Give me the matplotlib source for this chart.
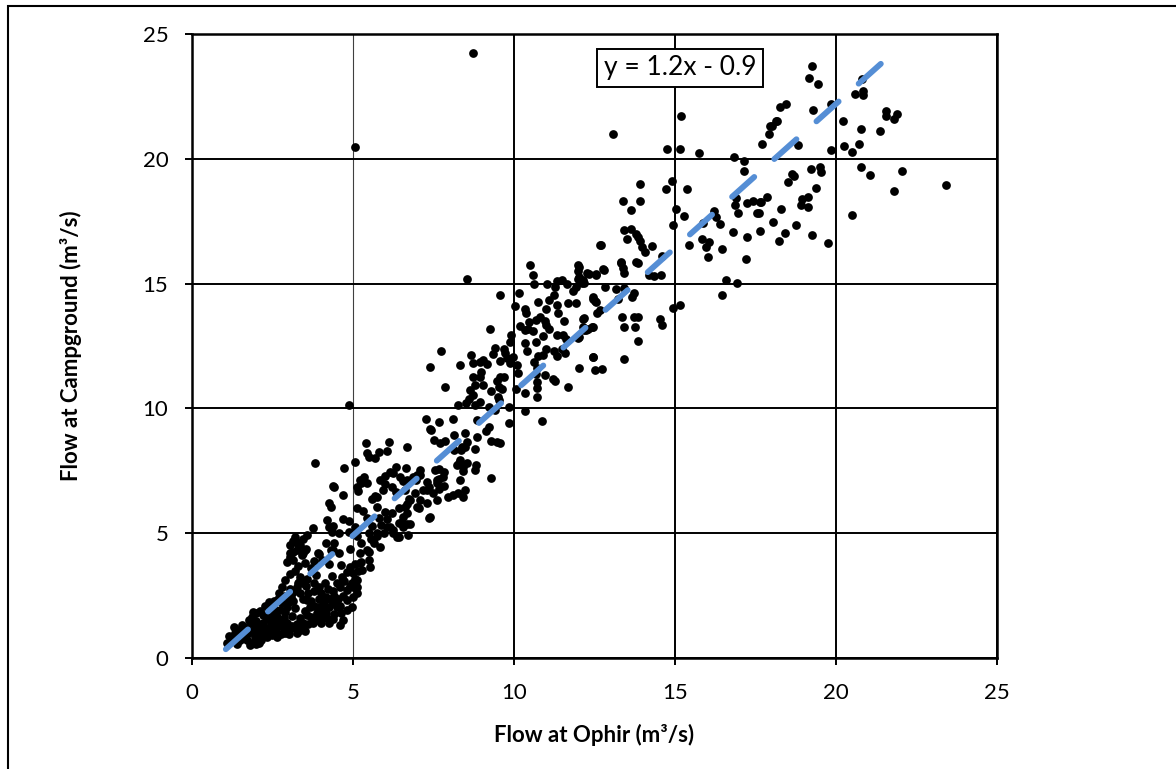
import numpy as np
import matplotlib.pyplot as plt
from matplotlib.patches import Rectangle

plt.rcParams['font.family'] = ['Lato', 'DejaVu Sans']

# (flow at Ophir, flow at Campground) in m3/s
# dense low-flow cluster
low_flows = [
    (3.13, 4.69), (3.26, 4.61), (3.35, 4.53), (3.04, 4.05), (3.13, 3.93), (2.95, 3.85), (3.04, 4.21),
    (3.26, 4.33), (3.41, 4.13), (3.5, 4.33), (4.16, 4.61), (4.31, 4.33), (3.91, 4.21), (4.03, 3.93),
    (3.19, 3.49), (4.81, 3.45), (4.9, 3.65), (5.06, 3.77), (5.15, 3.49), (5.06, 3.17), (4.65, 3.25),
    (4.71, 3.09), (4.34, 3.29), (4.5, 3.0), (4.22, 2.76), (4.37, 2.68), (4.59, 2.84), (4.13, 3.0),
    (3.94, 2.84), (3.78, 3.0), (3.85, 3.33), (3.57, 3.17), (3.44, 3.0), (3.35, 3.25), (3.32, 3.05),
    (3.26, 2.84), (3.13, 2.64), (3.07, 2.44), (3.01, 2.24), (2.95, 2.04), (2.88, 1.84), (3.35, 2.6),
    (3.44, 2.36), (3.57, 2.32), (3.66, 2.04), (3.78, 2.08), (3.91, 2.04), (4.03, 2.32), (4.16, 2.44),
    (4.28, 2.36), (4.37, 2.2), (4.53, 2.36), (4.5, 2.04), (3.88, 1.8), (3.69, 1.64), (3.57, 1.72),
    (3.35, 1.6), (3.44, 1.4), (3.26, 1.36), (3.75, 1.4), (3.91, 1.52), (4.03, 1.64), (4.16, 1.8),
    (4.25, 2.04), (3.1, 1.28), (3.01, 1.12), (2.88, 1.0), (2.73, 1.48), (2.64, 1.32), (2.82, 1.24),
    (2.64, 1.64), (2.73, 1.92), (2.79, 2.2), (2.67, 2.36), (2.7, 2.6), (2.79, 2.84), (2.88, 3.13),
    (3.04, 3.37), (2.51, 2.04), (2.42, 1.8), (2.33, 1.56), (2.2, 1.4), (2.11, 1.28), (1.95, 1.2),
    (2.45, 1.32), (2.39, 1.08), (2.57, 1.04), (2.2, 1.04), (2.08, 0.92), (1.95, 0.84), (2.33, 0.84),
    (2.48, 0.92), (2.64, 0.84), (1.83, 1.04), (1.71, 1.24), (1.55, 1.32), (1.77, 1.52), (1.86, 1.64),
    (1.99, 1.8), (2.11, 1.88), (2.2, 1.72), (1.46, 1.12), (1.33, 1.0), (1.58, 0.88), (1.71, 0.72),
    (1.83, 0.6), (2.08, 0.6), (2.14, 0.72), (1.49, 0.72), (1.4, 0.56), (1.09, 0.6), (1.21, 0.76),
    (1.8, 0.52), (1.99, 0.56), (2.39, 2.24), (2.26, 2.08), (1.9, 1.84), (4.62, 1.8), (4.81, 1.92),
    (4.96, 2.04), (4.81, 2.32), (4.99, 2.44), (5.12, 2.6), (4.81, 2.72), (4.96, 3.0), (5.12, 2.84),
    (4.25, 1.4), (4.37, 1.56), (4.68, 1.52), (4.59, 1.32), (3.26, 1.0), (3.35, 1.12), (3.5, 1.08),
    (1.3, 1.25), (1.15, 0.9), (1.6, 1.05), (1.9, 1.4), (2.0, 1.05), (2.3, 1.2), (2.55, 1.55),
    (2.6, 1.15), (2.85, 1.6), (2.95, 1.4), (3.1, 1.7), (3.2, 2.0), (3.15, 2.3), (3.5, 1.9),
    (3.6, 2.6), (3.7, 2.3), (3.8, 2.7), (4.0, 2.6), (4.1, 2.15), (4.2, 1.6), (4.4, 1.75), (4.4, 2.5),
    (4.6, 2.1), (4.7, 2.5), (4.9, 2.9), (3.7, 3.6), (3.5, 3.8), (3.8, 3.9), (3.3, 3.7), (2.4, 1.6),
    (2.0, 1.5), (1.7, 0.95), (3.0, 0.95), (3.2, 1.2), (3.45, 1.25), (3.6, 1.35), (3.85, 1.55),
    (4.0, 1.4), (4.1, 1.9), (3.95, 2.35), (3.55, 2.9), (3.3, 3.0), (3.05, 2.75), (2.9, 2.5),
    (2.55, 2.3), (2.6, 1.9), (1.35, 0.8), (2.25, 0.95), (2.75, 0.95),
]

# rising limb, Ophir 3 - 8.5
mid_low_flows = [
    (3.57, 4.93), (3.44, 4.77), (3.19, 4.85), (3.29, 4.61), (3.04, 4.53), (3.13, 4.25), (3.54, 4.37),
    (3.44, 4.21), (3.94, 4.17), (4.4, 4.61), (4.37, 4.33), (4.56, 4.21), (4.62, 3.73), (4.25, 3.77),
    (4.9, 4.37), (5.21, 4.21), (5.24, 3.85), (5.49, 3.93), (5.24, 4.61), (5.49, 4.25), (3.75, 5.21),
    (4.19, 5.53), (4.25, 5.25), (4.37, 5.29), (4.34, 5.05), (4.56, 5.01), (4.68, 5.57), (4.87, 5.49),
    (5.06, 5.25), (5.12, 4.89), (4.87, 5.05), (4.25, 6.21), (4.31, 6.05), (4.4, 6.85), (4.68, 6.53),
    (5.15, 6.69), (3.82, 7.81), (5.06, 7.85), (4.71, 7.61), (5.12, 6.01), (5.65, 4.61), (5.55, 4.77),
    (5.43, 4.33), (5.86, 5.33), (5.96, 5.01), (5.74, 4.89), (5.58, 6.37), (5.74, 6.05), (5.68, 6.49),
    (5.33, 7.25), (5.24, 7.01), (5.21, 3.81), (5.27, 3.53), (5.52, 3.65), (4.99, 3.41), (5.12, 3.13),
    (4.99, 2.84), (5.61, 4.73), (5.74, 5.01), (5.83, 4.45), (6.05, 5.25), (6.23, 5.01), (6.36, 4.85),
    (6.42, 5.41), (6.54, 5.25), (6.76, 5.37), (6.76, 6.33), (6.92, 6.61), (6.98, 6.05), (7.07, 6.33),
    (7.29, 6.73), (7.48, 6.61), (7.29, 6.21), (7.38, 5.65), (7.6, 7.13), (7.6, 6.33), (6.67, 7.13),
    (6.85, 7.25), (7.07, 7.33), (6.23, 7.41), (6.45, 7.25), (5.83, 7.13), (5.92, 6.73), (5.74, 6.45),
    (5.21, 7.13), (5.43, 7.01), (5.12, 6.85), (4.37, 6.89), (5.4, 8.61), (6.11, 8.66), (6.05, 8.29),
    (5.8, 8.25), (6.67, 8.46), (5.43, 8.21), (5.49, 8.05), (5.68, 8.01), (6.33, 7.65), (6.64, 7.61),
    (5.99, 7.29), (6.14, 7.45), (7.07, 7.53), (6.98, 7.33), (6.95, 7.13), (7.29, 7.05), (7.35, 6.85),
    (7.16, 6.73), (7.66, 7.17), (7.82, 7.45), (7.54, 7.53), (8.22, 7.73), (8.41, 7.49), (8.53, 7.81),
    (8.31, 7.13), (7.66, 6.77), (7.82, 6.89), (7.94, 6.45), (8.1, 6.53), (8.25, 6.61), (5.99, 6.97),
    (6.2, 6.85), (6.54, 7.09), (6.33, 6.65), (6.61, 6.73), (5.99, 5.85), (6.05, 5.57), (6.2, 5.81),
    (6.42, 6.01), (6.61, 6.05), (6.67, 5.81), (6.73, 6.37), (6.67, 6.17), (7.04, 6.01), (7.35, 5.61),
    (6.54, 5.65), (6.48, 5.41), (6.67, 5.37), (6.42, 4.85), (6.7, 4.93), (6.23, 5.13), (6.14, 5.25),
    (5.43, 5.6), (5.3, 5.9), (5.6, 5.3), (5.5, 5.0), (5.8, 5.6), (4.87, 10.14), (7.26, 9.58),
    (7.41, 9.14), (8.41, 6.45), (8.47, 6.73),
]

# Ophir 7.3 - 12.8
mid_flows = [
    (8.53, 15.18), (10.51, 15.75), (10.58, 15.35), (10.61, 14.98), (11.04, 14.98), (11.32, 15.1),
    (11.48, 15.14), (11.66, 14.98), (12.0, 15.75), (12.0, 15.5), (12.28, 15.42), (12.56, 15.38),
    (12.75, 15.58), (12.0, 15.18), (12.16, 15.03), (11.94, 14.86), (11.82, 14.7), (11.26, 14.86),
    (11.23, 14.54), (9.58, 14.54), (10.17, 14.62), (10.76, 14.26), (11.1, 14.34), (11.35, 14.14),
    (11.69, 14.22), (11.94, 14.22), (12.44, 14.38), (12.56, 14.26), (10.02, 14.1), (10.33, 13.98),
    (10.36, 13.82), (11.38, 13.82), (10.48, 13.46), (10.67, 13.54), (10.82, 13.66), (10.95, 13.5),
    (11.54, 13.5), (12.13, 13.58), (10.45, 13.18), (10.33, 13.14), (10.58, 13.1), (9.27, 13.18),
    (11.0, 13.34), (11.1, 13.18), (12.16, 13.14), (12.31, 13.18), (12.44, 13.26), (11.32, 12.94),
    (11.51, 12.94), (11.63, 12.78), (12.0, 12.82), (10.67, 12.66), (10.33, 12.62), (11.23, 12.3),
    (11.35, 12.1), (11.57, 12.22), (11.48, 12.38), (11.0, 12.38), (10.89, 12.14), (10.76, 12.1),
    (9.89, 12.66), (9.68, 12.38), (9.4, 12.42), (9.34, 12.18), (9.71, 12.22), (9.77, 12.02),
    (9.58, 11.9), (9.89, 11.82), (9.96, 12.06), (8.68, 12.14), (8.72, 11.82), (9.03, 11.94),
    (9.15, 11.78), (8.93, 11.86), (8.31, 11.74), (7.72, 12.3), (7.38, 11.66), (10.08, 11.74),
    (10.11, 11.42), (10.61, 11.86), (10.7, 11.62), (10.67, 11.38), (10.95, 11.34), (11.2, 11.18),
    (11.26, 11.1), (12.03, 11.62), (12.44, 12.06), (12.5, 11.54), (12.72, 11.58), (11.69, 10.86),
    (10.7, 11.06), (10.7, 10.82), (10.7, 10.46), (10.33, 10.62), (10.05, 10.78), (9.68, 11.26),
    (9.55, 11.26), (9.46, 11.1), (9.52, 10.86), (9.62, 10.78), (9.3, 10.7), (9.49, 10.46),
    (9.52, 10.34), (9.03, 10.94), (8.93, 11.26), (8.96, 11.46), (8.72, 11.26), (8.78, 10.94),
    (8.62, 10.74), (8.72, 10.54), (8.59, 10.38), (8.78, 10.14), (8.93, 10.26), (7.85, 10.86),
    (8.25, 10.14), (8.5, 10.22), (9.21, 10.06), (9.4, 9.94), (9.83, 10.06), (10.33, 9.9),
    (10.86, 9.5), (9.83, 9.42), (9.21, 9.26), (9.12, 9.1), (8.84, 9.54), (8.47, 9.02), (8.1, 9.58),
    (7.66, 9.46), (7.38, 9.18), (8.13, 8.94), (7.85, 8.7), (7.69, 8.62), (8.53, 8.66), (8.37, 8.46),
    (9.3, 8.7), (9.55, 8.62), (7.51, 8.74), (8.84, 8.85), (9.46, 8.65), (8.13, 8.33), (8.34, 8.33),
    (8.47, 8.45), (8.78, 8.37), (8.31, 7.93), (8.28, 7.81), (8.41, 7.65), (8.81, 7.73), (8.78, 7.53),
    (9.3, 7.21), (7.66, 7.57), (7.79, 7.25), (7.6, 7.01), (11.0, 13.98), (10.2, 13.3), (10.9, 12.9),
    (10.4, 12.3), (9.9, 12.95),
]

# Ophir 12 - 17.7
high_flows = [
    (13.86, 12.7), (12.44, 12.06), (13.43, 11.98), (12.13, 13.26), (12.25, 13.14), (12.41, 13.26),
    (12.03, 12.86), (12.16, 13.62), (12.59, 13.82), (12.66, 13.94), (12.44, 14.46), (12.5, 14.3),
    (12.03, 15.27), (12.13, 15.14), (12.1, 15.03), (12.34, 15.38), (12.56, 15.35), (12.78, 15.55),
    (12.03, 15.67), (13.31, 15.83), (13.37, 15.63), (13.43, 15.43), (13.86, 15.83), (14.2, 15.35),
    (14.36, 15.3), (14.55, 15.35), (14.61, 16.11), (14.3, 16.5), (14.08, 16.27), (13.96, 16.47),
    (13.86, 16.87), (13.9, 16.7), (13.8, 16.99), (13.43, 17.15), (13.62, 17.19), (13.52, 16.79),
    (12.69, 16.55), (13.37, 18.3), (13.9, 18.3), (13.62, 17.95), (13.9, 19.0), (13.06, 21.0),
    (15.2, 21.7), (14.76, 20.4), (15.17, 20.4), (15.73, 20.23), (16.84, 20.07), (17.15, 19.9),
    (17.15, 19.5), (14.73, 18.79), (14.92, 19.11), (15.38, 18.79), (15.04, 17.99), (15.29, 17.7),
    (14.95, 17.35), (15.42, 16.55), (15.88, 17.43), (15.85, 16.79), (16.07, 16.67), (15.97, 16.47),
    (16.04, 16.07), (16.47, 16.39), (16.28, 17.67), (16.22, 17.9), (16.41, 17.39), (16.81, 17.07),
    (16.9, 18.43), (16.87, 18.15), (16.97, 17.83), (17.25, 18.23), (17.43, 18.3), (17.65, 18.27),
    (17.56, 17.83), (17.25, 16.87), (17.21, 15.99), (16.59, 15.14), (16.94, 15.03), (16.47, 14.54),
    (15.14, 14.14), (14.95, 14.02), (14.52, 13.58), (14.61, 13.34), (13.8, 15.87), (13.31, 15.87),
    (12.66, 16.55), (12.84, 14.86), (13.18, 14.78), (13.43, 14.82), (13.24, 14.38), (13.68, 14.46),
    (13.74, 14.62), (13.34, 13.66), (13.74, 13.66), (13.86, 13.66), (13.43, 13.26), (13.77, 13.26),
    (17.71, 20.6), (17.96, 21.3), (18.14, 21.5),
]

# Ophir above 17.5
peak_flows = [
    (19.26, 23.72), (19.17, 23.24), (19.45, 23.0), (20.81, 23.2), (20.6, 22.6), (20.84, 22.7),
    (20.84, 22.56), (19.85, 22.2), (18.27, 22.07), (18.46, 22.2), (19.29, 21.96), (21.56, 21.9),
    (21.56, 21.7), (21.8, 21.6), (21.9, 21.8), (18.18, 21.5), (18.0, 21.3), (17.93, 21.0),
    (20.22, 21.5), (20.78, 21.2), (21.37, 21.1), (18.83, 20.55), (20.25, 20.5), (20.72, 20.6),
    (19.85, 20.35), (20.5, 20.27), (19.23, 19.6), (19.5, 19.67), (19.54, 19.47), (20.78, 19.67),
    (21.06, 19.35), (22.05, 19.5), (18.64, 19.4), (18.7, 19.3), (18.52, 19.07), (19.39, 18.83),
    (21.8, 18.7), (23.42, 18.95), (17.87, 18.47), (17.68, 18.27), (19.14, 18.47), (18.95, 18.38),
    (18.92, 18.15), (19.14, 18.07), (18.3, 18.0), (17.62, 17.83), (20.5, 17.75), (18.05, 17.47),
    (18.77, 17.35), (17.65, 17.1), (18.42, 17.03), (19.26, 16.95), (18.24, 16.7), (19.76, 16.63),
]

# lone outliers near the top
outliers = [(8.72, 24.24), (5.06, 20.47)]

# fitted trendline, as shown on the chart
trend_slope = 1.153
trend_intercept = -0.86
trend_x = [1.05, 22.0]
trend_label = "y = 1.2x - 0.9"

xticks = [0, 5, 10, 15, 20, 25]
yticks = [0, 5, 10, 15, 20, 25]

pts = np.array(low_flows + mid_low_flows + mid_flows + high_flows + peak_flows + outliers)

fig = plt.figure(figsize=(11.76, 7.69), dpi=100)
ax = fig.add_axes([192 / 1176, 1 - 658 / 769, 805 / 1176, 624 / 769])

ax.plot(pts[:, 0], pts[:, 1], 'o', color='black', markersize=6.3, markeredgewidth=0, zorder=3)

tx = np.array(trend_x)
line, = ax.plot(tx, trend_slope * tx + trend_intercept, color='#558ED5', lw=4.2,
                solid_capstyle='round', dash_capstyle='round', zorder=4)
# dash lengths are in multiples of the line width
line.set_dashes([5.1, 4.6])

ax.set_xlim(0, 25)
ax.set_ylim(0, 25)
ax.set_xticks(xticks)
ax.set_yticks(yticks)
ax.grid(True, color='black', lw=1.4, zorder=1)
ax.set_axisbelow(True)
# the x = 5 grid line is drawn thinner in the original
ax.xaxis.get_gridlines()[1].set_linewidth(0.8)
ax.xaxis.get_gridlines()[1].set_color('#404040')

for s in ax.spines.values():
    s.set_linewidth(1.8)
    s.set_color('black')

ax.tick_params(axis='both', length=5, width=1.4, labelsize=16, color='black')
ax.tick_params(axis='x', pad=13)
ax.tick_params(axis='y', pad=12)

ax.set_xlabel('Flow at Ophir (m³/s)', fontsize=16, fontweight='bold', labelpad=15)
ax.set_ylabel('Flow at Campground (m³/s)', fontsize=16, fontweight='bold', labelpad=44)

ax.text(0.606, 0.946, trend_label, transform=ax.transAxes, ha='center', va='center',
        fontsize=19, zorder=5,
        bbox=dict(boxstyle='square,pad=0.25', fc='white', ec='black', lw=1.4))

# frame around the whole chart area
fig.patches.append(Rectangle((8 / 1176, -0.1), 1.2, 1.1 - 6 / 769, transform=fig.transFigure,
                             fill=False, ec='black', lw=1.5))

fig.savefig('out.png', dpi=100)
